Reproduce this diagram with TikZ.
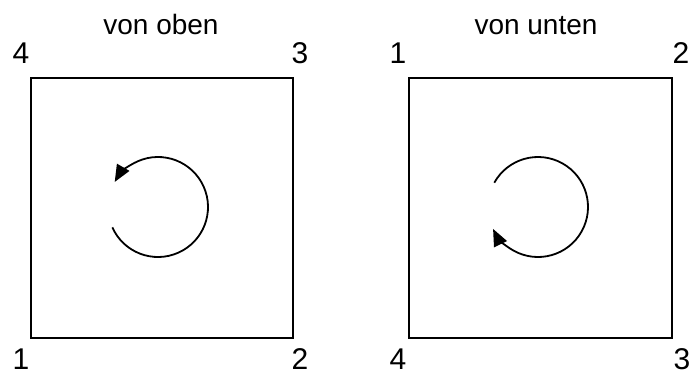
\documentclass[tikz,border=0pt]{standalone}
\usepackage{fontspec}
\setmainfont{Liberation Sans}
\usetikzlibrary{arrows.meta}
\tikzset{
  sq/.style={draw=black, line width=1.7pt},
  rot/.style={line width=1.8pt, -{Triangle[length=17pt,width=14pt]}},
  num/.style={inner sep=0pt, anchor=base, text depth=0pt, font=\fontsize{30}{30}\selectfont},
  ttl/.style={inner sep=0pt, anchor=base, font=\fontsize{28}{28}\selectfont}
}
\begin{document}
\begin{tikzpicture}[x=1pt,y=1pt]
\useasboundingbox (0,0) rectangle (690,373);
% squares
\draw[sq] (31,295) rectangle (293,35);
\draw[sq] (409,295) rectangle (672,35);
% rotation arrows
\coordinate (cl) at (158,166);
\coordinate (cr) at (538,166);
\draw[rot] ([shift={(-156:50)}]cl) arc[start angle=-156, end angle=150, radius=50];
\draw[rot] ([shift={(151:50)}]cr) arc[start angle=151, end angle=-154, radius=50];
% titles
\node[ttl] (t1) at (161,338) {von oben};
\node[ttl] (t2) at (536,338) {von unten};
% corner numbers
\node[num] (a4) at (21,309) {4};
\node[num] (a3) at (300,309) {3};
\node[num] (a1) at (21,4) {1};
\node[num] (a2) at (300,4) {2};
\node[num] (b1) at (398,309) {1};
\node[num] (b2) at (681,309) {2};
\node[num] (b4) at (398,4) {4};
\node[num] (b3) at (682,4) {3};
\end{tikzpicture}
\end{document}
